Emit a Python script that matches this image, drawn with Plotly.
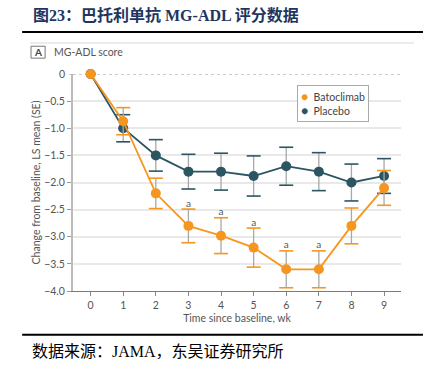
import plotly.graph_objects as go

weeks = [0, 1, 2, 3, 4, 5, 6, 7, 8, 9]
bato_mean = [0, -0.87, -2.2, -2.8, -2.98, -3.2, -3.6, -3.6, -2.8, -2.1]
bato_se = [0, 0.25, 0.28, 0.31, 0.33, 0.36, 0.34, 0.34, 0.33, 0.32]
plac_mean = [0, -1.0, -1.5, -1.8, -1.8, -1.88, -1.7, -1.8, -2.0, -1.88]
plac_se = [0, 0.25, 0.29, 0.32, 0.34, 0.37, 0.35, 0.35, 0.34, 0.32]
sig_weeks = [3, 4, 5, 6, 7]
y_ticks = [0, -0.5, -1.0, -1.5, -2.0, -2.5, -3.0, -3.5, -4.0]
y_ticktext = ["0", "−0.5", "−1.0", "−1.5", "−2.0", "−2.5", "−3.0", "−3.5", "−4.0"]

ORANGE = "#F7961E"
TEAL = "#2C5562"
STEM = "#A8A8A8"
TXT = "#555555"
FONT = "Lato, Open Sans, sans-serif"

fig = go.Figure()

def add_series(name, mean, se, color):
    # grey stems
    fig.add_trace(go.Scatter(
        x=weeks[1:], y=mean[1:], mode="markers", marker=dict(size=0.1, opacity=0),
        error_y=dict(type="data", array=se[1:], color=STEM, thickness=1.3, width=0),
        showlegend=False, hoverinfo="skip", cliponaxis=False))
    # coloured caps
    fig.add_trace(go.Scatter(
        x=weeks[1:] + weeks[1:],
        y=[m + s for m, s in zip(mean[1:], se[1:])] + [m - s for m, s in zip(mean[1:], se[1:])],
        mode="markers",
        marker=dict(symbol="line-ew", size=10, line=dict(color=color, width=1.6)),
        showlegend=False, hoverinfo="skip", cliponaxis=False))
    # line + markers
    fig.add_trace(go.Scatter(
        x=weeks, y=mean, mode="lines+markers", name=name,
        line=dict(color=color, width=1.8),
        marker=dict(size=10, color=color),
        showlegend=False, cliponaxis=False))

add_series("Placebo", plac_mean, plac_se, TEAL)
add_series("Batoclimab", bato_mean, bato_se, ORANGE)

# significance labels
fig.add_trace(go.Scatter(
    x=sig_weeks,
    y=[bato_mean[w] + bato_se[w] for w in sig_weeks],
    mode="text", text=["a"] * len(sig_weeks), textposition="top center",
    textfont=dict(family=FONT, size=10, color=TXT),
    showlegend=False, hoverinfo="skip", cliponaxis=False))

# dotted zero line
fig.add_shape(type="line", xref="paper", x0=0, x1=1, yref="y", y0=0, y1=0,
              line=dict(color="#999999", width=1, dash="dot"), layer="below")

fig.update_layout(
    width=431, height=378,
    margin=dict(l=73, r=30, t=74, b=87),
    paper_bgcolor="white", plot_bgcolor="white",
    font=dict(family=FONT, size=10, color=TXT),
    showlegend=False,
    xaxis=dict(range=[-0.54, 9.52], tickvals=weeks, showgrid=False, zeroline=False,
               showline=True, linecolor="#7A7A7A", linewidth=1.2,
               ticks="outside", ticklen=4, tickcolor="#888888",
               tickfont=dict(size=10.5, color=TXT), automargin=False,
               title=dict(text="Time since baseline, wk", font=dict(size=10.5, color=TXT), standoff=4)),
    yaxis=dict(range=[-4.0, 0.0], tickvals=y_ticks[1:], ticktext=y_ticktext[1:],
               showgrid=True, gridcolor="#E9E9E9", gridwidth=2, zeroline=False,
               showline=True, linecolor="#BBBBBB", linewidth=2,
               ticks="outside", ticklen=4, tickcolor="#999999",
               tickfont=dict(size=10.5, color=TXT), automargin=False,
               title=dict(text="Change from baseline, LS mean (SE)", font=dict(size=10.5, color=TXT), standoff=1)),
)

# legend box (compact, like the original)
fig.add_annotation(
    xref="paper", yref="paper", x=0.683, y=0.95, xanchor="left", yanchor="top",
    text=(f"<span style='color:{ORANGE};font-size:12px'>●</span>  Batoclimab<br>"
          f"<span style='color:{TEAL};font-size:12px'>●</span>  Placebo"),
    align="left", showarrow=False, bordercolor="#AAAAAA", borderwidth=1, borderpad=3,
    bgcolor="white", font=dict(family=FONT, size=10.5, color="#444444"))

# 0 tick label (grid replaced by dotted line)
fig.add_annotation(xref="paper", yref="y", x=0, y=0, text="0", showarrow=False,
                   xanchor="right", yanchor="middle", xshift=-6, font=dict(size=10.5, color=TXT))
fig.add_shape(type="line", xref="paper", yref="y", x0=-0.012, x1=0, y0=0, y1=0,
              line=dict(color="#999999", width=1))

# title, rules, panel header, source
fig.add_annotation(xref="paper", yref="paper", x=-0.128, y=1.27, xanchor="left", yanchor="middle",
                   text="<b>图23：巴托利单抗 MG-ADL 评分数据</b>", showarrow=False,
                   font=dict(family="Liberation Serif, Noto Sans CJK SC", size=16, color="#1F3560"))
fig.add_shape(type="line", xref="paper", yref="paper", x0=-0.155, x1=1.067, y0=1.193, y1=1.193,
              line=dict(color="black", width=2))
fig.add_shape(type="line", xref="paper", yref="paper", x0=-0.13, x1=1.04, y0=1.143, y1=1.143,
              line=dict(color="#E6E6E6", width=1.5))
fig.add_shape(type="rect", xref="paper", yref="paper", x0=-0.128, x1=-0.085, y0=1.073, y1=1.128,
              line=dict(color="#777777", width=1))
fig.add_annotation(xref="paper", yref="paper", x=-0.1065, y=1.1, xanchor="center", yanchor="middle",
                   text="<b>A</b>", showarrow=False, font=dict(size=10, color="#444444"))
fig.add_annotation(xref="paper", yref="paper", x=-0.065, y=1.1, xanchor="left", yanchor="middle",
                   text="MG-ADL score", showarrow=False, font=dict(size=10.5, color=TXT))
fig.add_shape(type="line", xref="paper", yref="paper", x0=-0.155, x1=1.067, y0=-0.202, y1=-0.202,
              line=dict(color="black", width=2))
fig.add_annotation(xref="paper", yref="paper", x=-0.13, y=-0.277, xanchor="left", yanchor="middle",
                   text="数据来源：JAMA，东吴证券研究所", showarrow=False,
                   font=dict(family="Liberation Serif, Noto Sans CJK SC", size=16, color="black"))

fig.write_html("out.html", config={"displayModeBar": False},
               post_script="document.body.style.margin='0';")
